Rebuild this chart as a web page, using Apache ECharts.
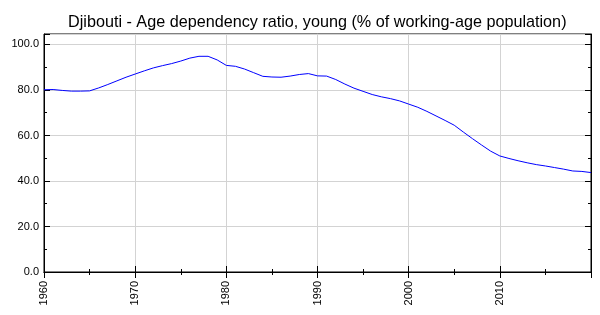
<!DOCTYPE html>
<html>
<head>
<meta charset="utf-8">
<script src="https://cdn.jsdelivr.net/npm/echarts@6/dist/echarts.min.js"></script>
<style>html,body{margin:0;padding:0;background:#fff}#c{width:600px;height:315px}</style>
</head>
<body>
<div id="c"></div>
<script>
const titleText = "Djibouti - Age dependency ratio, young (% of working-age population)";
const years = [];
for (let y = 1960; y <= 2020; y++) years.push(y);
const values = [80.1,80.2,79.8,79.5,79.5,79.6,80.9,82.4,84.0,85.6,
  87.0,88.4,89.7,90.7,91.6,92.7,94.0,94.8,94.8,93.2,
  90.8,90.4,89.2,87.6,86.0,85.7,85.6,86.1,86.8,87.2,
  86.2,86.1,84.6,82.6,80.8,79.4,78.0,77.0,76.2,75.2,
  73.8,72.4,70.6,68.6,66.6,64.5,61.5,58.6,55.8,53.1,
  51.0,49.9,48.9,48.0,47.2,46.6,45.9,45.2,44.4,44.2,43.7];
const xTickLabels = [1960,1970,1980,1990,2000,2010];
const yTickLabels = [0,20,40,60,80,100];

const chart = echarts.init(document.getElementById('c'), null, {renderer:'canvas'});
const font = 'Liberation Sans, Arial, sans-serif';
chart.setOption({
  animation:false,
  title:{text:titleText,left:63,top:10,textStyle:{fontFamily:font,fontSize:16.2,fontWeight:'normal',color:'#000'}},
  grid:{left:44,right:9,top:34,bottom:43,show:true,borderColor:'#000',borderWidth:1,backgroundColor:'#fff'},
  xAxis:[{
    type:'value',min:1960,max:2020,interval:10,position:'bottom',
    axisLine:{show:true,lineStyle:{color:'#000'}},
    axisTick:{show:true,inside:true,length:6,lineStyle:{color:'#000'}},
    minorTick:{show:true,splitNumber:2,length:3,lineStyle:{color:'#000'}},
    splitLine:{show:true,lineStyle:{color:'#d3d3d3',width:1}},
    axisLabel:{rotate:90,margin:9,fontFamily:font,fontSize:11,color:'#000',
      formatter:v=>xTickLabels.indexOf(v)>=0?String(v):''}
  },{
    type:'value',min:1960,max:2020,interval:10,position:'top',
    axisLine:{show:true,lineStyle:{color:'#000'}},
    axisTick:{show:true,inside:true,length:6,lineStyle:{color:'#000'}},
    minorTick:{show:true,splitNumber:2,length:3,lineStyle:{color:'#000'}},
    splitLine:{show:false},axisLabel:{show:false}
  }],
  yAxis:[{
    type:'value',min:0,max:104.6,interval:20,position:'left',
    axisLine:{show:true,lineStyle:{color:'#000'}},
    axisTick:{show:true,inside:true,length:6,lineStyle:{color:'#000'}},
    minorTick:{show:true,splitNumber:2,length:3,lineStyle:{color:'#000'}},
    splitLine:{show:true,lineStyle:{color:'#d3d3d3',width:1}},
    axisLabel:{margin:5,fontFamily:font,fontSize:11,color:'#000',
      formatter:v=>yTickLabels.indexOf(v)>=0?v.toFixed(1):''}
  },{
    type:'value',min:0,max:104.6,interval:20,position:'right',
    axisLine:{show:true,lineStyle:{color:'#000'}},
    axisTick:{show:true,inside:true,length:6,lineStyle:{color:'#000'}},
    minorTick:{show:true,splitNumber:2,length:3,lineStyle:{color:'#000'}},
    splitLine:{show:false},axisLabel:{show:false}
  }],
  series:[{
    type:'line',xAxisIndex:0,yAxisIndex:0,
    data:years.map((y,i)=>[y,values[i]]),
    showSymbol:false,symbol:'none',
    lineStyle:{color:'#0000ff',width:1},
    itemStyle:{color:'#0000ff'}
  }]
});
</script>
</body>
</html>
